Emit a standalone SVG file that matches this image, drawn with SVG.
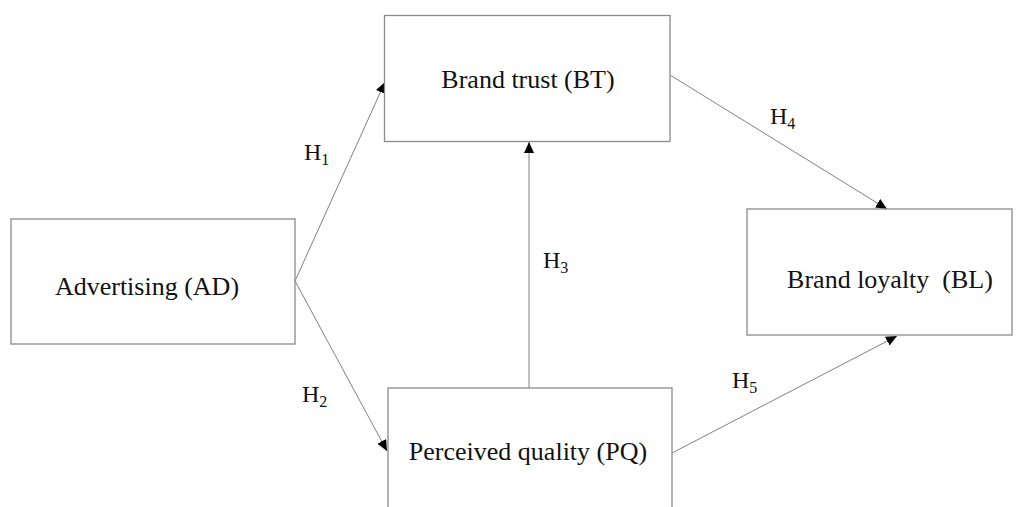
<svg xmlns="http://www.w3.org/2000/svg" width="1019" height="507" viewBox="0 0 1019 507">
<style>
.box{fill:#fff;stroke:#8a8a8a;stroke-width:1.3}
.lbl{font-family:"Liberation Serif","Times New Roman",serif;font-size:26px;fill:#111}
.h{font-family:"Liberation Serif","Times New Roman",serif;font-size:24px;fill:#111}
.sub{font-size:16px}
.conn{stroke:#808080;stroke-width:1;fill:none;marker-end:url(#ah)}
</style>
<defs>
<marker id="ah" markerUnits="userSpaceOnUse" markerWidth="12" markerHeight="10" refX="11" refY="5" orient="auto">
<path d="M0,0 L11,5 L0,10 Z" fill="#000"/>
</marker>
</defs>
<rect width="1019" height="507" fill="#fff"/>
<g id="connectors">
<line class="conn" x1="295" y1="281" x2="385" y2="82"/>
<line class="conn" x1="295" y1="281" x2="387" y2="451"/>
<line class="conn" x1="529" y1="388" x2="529" y2="142"/>
<line class="conn" x1="670" y1="75" x2="887" y2="209"/>
<line class="conn" x1="672" y1="453" x2="897" y2="336"/>
</g>
<g id="labels">
<text class="h" x="304" y="160">H<tspan class="sub" dy="5">1</tspan></text>
<text class="h" x="302" y="402">H<tspan class="sub" dy="5">2</tspan></text>
<text class="h" x="543" y="268">H<tspan class="sub" dy="5">3</tspan></text>
<text class="h" x="770" y="124">H<tspan class="sub" dy="5">4</tspan></text>
<text class="h" x="732" y="388">H<tspan class="sub" dy="5">5</tspan></text>
</g>
<g id="node-bt">
<rect class="box" x="384.5" y="15.5" width="285.5" height="126"/>
<text class="lbl" x="528" y="88" text-anchor="middle">Brand trust (BT)</text>
</g>
<g id="node-ad">
<rect class="box" x="11" y="219" width="284" height="125"/>
<text class="lbl" x="147" y="295" text-anchor="middle">Advertising (AD)</text>
</g>
<g id="node-bl">
<rect class="box" x="747" y="209" width="265" height="126"/>
<text class="lbl" x="890" y="288" text-anchor="middle" xml:space="preserve">Brand loyalty  (BL)</text>
</g>
<g id="node-pq">
<rect class="box" x="388" y="388" width="284" height="130"/>
<text class="lbl" x="528" y="460" text-anchor="middle">Perceived quality (PQ)</text>
</g>
</svg>
